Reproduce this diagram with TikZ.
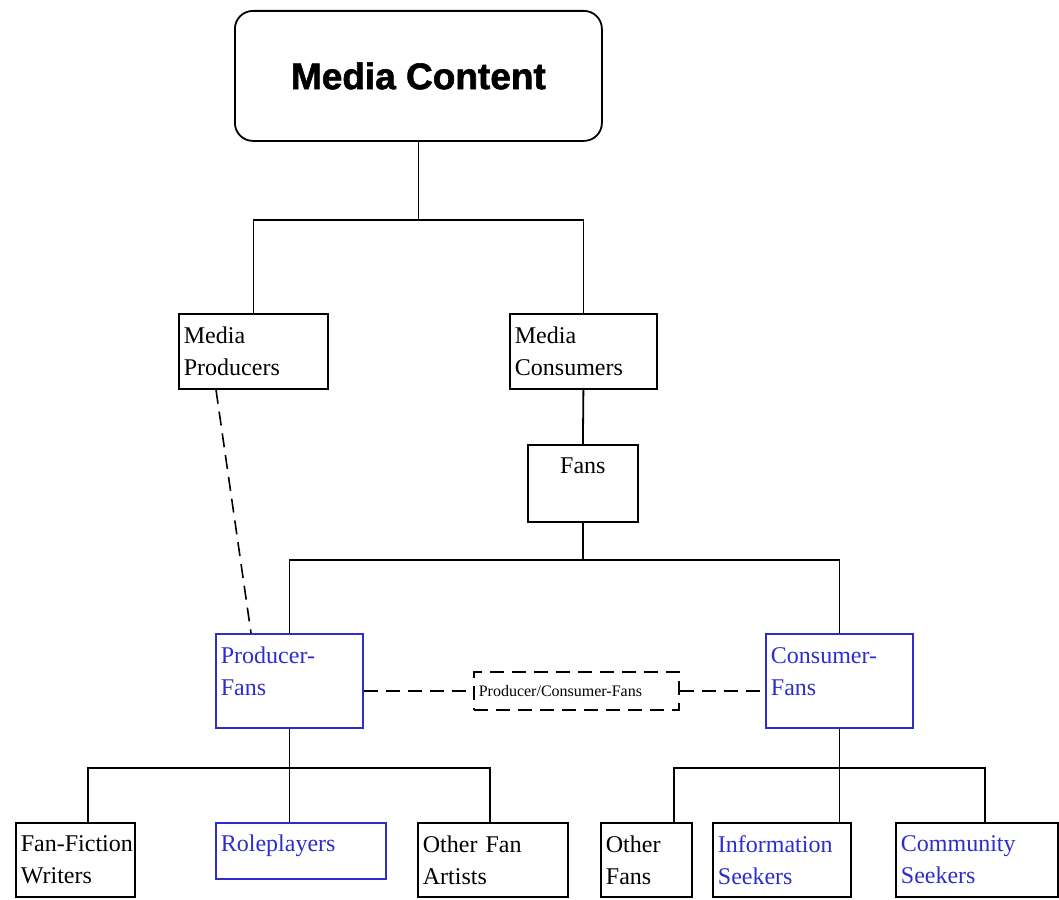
\documentclass[tikz,border=0pt]{standalone}
\usepackage{fontspec}
\setmainfont{Liberation Serif}
\newfontfamily\headfont[BoldFeatures={FakeBold=1.6}]{Liberation Sans}
\usetikzlibrary{positioning}
\definecolor{fanblue}{RGB}{45,45,205}
\tikzset{
    every node/.style={font=\fontsize{24}{32}\selectfont}, % Body text
    box/.style={draw, line width=1.8pt, anchor=north west, align=left, inner xsep=5pt, inner ysep=5pt}, % Plain boxes
    bluebox/.style={box, draw=fanblue, text=fanblue}, % Fan boxes
    link/.style={line width=1.8pt}, % Tree lines
    dashlink/.style={line width=1.6pt, dash pattern=on 14pt off 8pt}, % Loose ties
}
\begin{document}
\begin{tikzpicture}[x=1pt, y=-1pt]
    \useasboundingbox (0,0) rectangle (1059,899);

    \node[draw, line width=1.8pt, rounded corners=18pt, anchor=north west, minimum width=367pt, minimum height=130pt, font=\headfont\bfseries\fontsize{37}{40}\selectfont] (content) at (234,10) {Media Content};

    \node[box, text width=139pt, minimum height=75pt] (prod) at (178,313) {Media\\Producers};
    \node[box, text width=137pt, minimum height=75pt] (cons) at (509,313) {Media\\Consumers};
    \node[box, minimum width=110pt, text height=24pt, text depth=43pt] (fans) at (527,444) {Fans};

    \node[bluebox, text width=137pt, text height=25pt, text depth=59pt] (pfans) at (215,633) {Producer-\\Fans};
    \node[bluebox, text width=137pt, text height=25pt, text depth=59pt] (cfans) at (765,633) {Consumer-\\Fans};
    \node[box, dashlink, text width=195pt, minimum height=38pt, font=\fontsize{16}{18}\selectfont] (pcfans) at (473,671) {Producer/Consumer-Fans};

    \node[box, text width=109pt, minimum height=74pt] (writers) at (15,822) {\mbox{Fan-Fiction}\\Writers};
    \node[bluebox, text width=160pt, text height=24pt, text depth=22pt] (role) at (215,822) {Roleplayers};
    \node[box, text width=140pt, minimum height=74pt] (artists) at (417,822) {Other Fan\\Artists};
    \node[box, text width=81pt, minimum height=74pt] (ofans) at (600,822) {Other\\Fans};
    \node[box, text=fanblue, text width=128pt, minimum height=74pt] (info) at (712,822) {Information\\Seekers};
    \node[box, text=fanblue, text width=152pt, minimum height=74pt] (comm) at (895,822) {Community\\Seekers};

    % upper tree
    \draw[link] (content.south) -- ++(0,78) coordinate (j1);
    \draw[link] (prod.north) |- (j1) -| (cons.north);
    \draw[link] (cons.south) -- (fans.north);
    \draw[link] (fans.south) -- ++(0,37) coordinate (j2);
    \draw[link] (pfans.north) |- (j2) -| (cfans.north);

    % dashed ties
    \draw[dashlink] ([xshift=38pt]prod.south west) -- ([xshift=36pt]pfans.north west);
    \draw[dashlink] (pfans.east |- pcfans.west) -- (pcfans.west);
    \draw[dashlink] (pcfans.east) -- (pcfans.east -| cfans.west);

    % lower tree
    \draw[link] (pfans.south) -- ++(0,39) coordinate (j3);
    \draw[link] ([xshift=73pt]writers.north west) |- (j3) -| ([xshift=73pt]artists.north west);
    \draw[link] (j3) -- (j3 |- role.north);
    \draw[link] (cfans.south) -- ++(0,39) coordinate (j4);
    \draw[link] ([xshift=74pt]ofans.north west) |- (j4) -| ([xshift=90pt]comm.north west);
    \draw[link] (j4) -- (j4 |- info.north);
\end{tikzpicture}
\end{document}
